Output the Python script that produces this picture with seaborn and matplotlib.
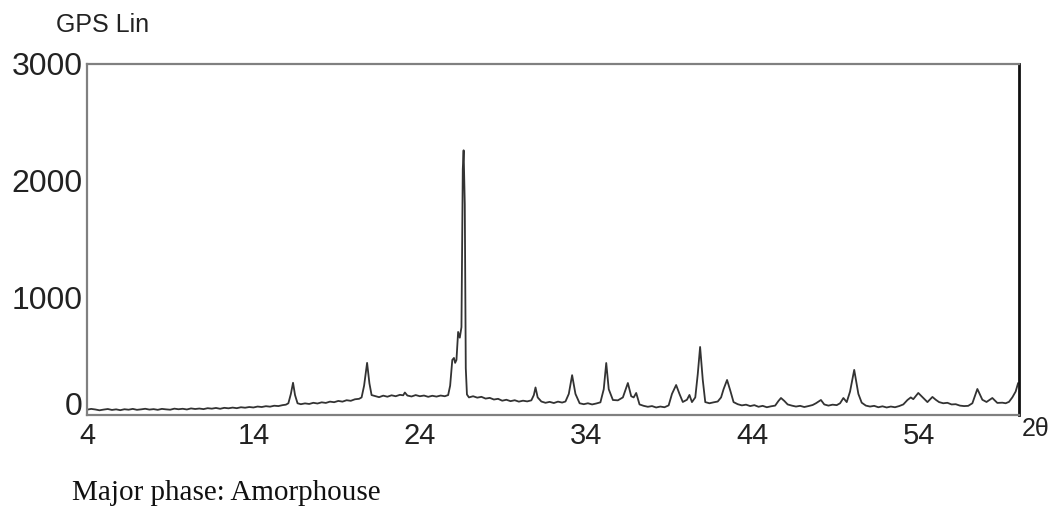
import numpy as np
import pandas as pd
import seaborn as sns
import matplotlib.pyplot as plt

# XRD trace: 2-theta (deg) and counts, ten points per line
two_theta = [4.0, 4.25, 4.5, 4.75, 5.0, 5.25, 5.5, 5.75, 6.0, 6.25,
             6.5, 6.75, 7.0, 7.25, 7.5, 7.75, 8.0, 8.25, 8.5, 8.75,
             9.0, 9.25, 9.5, 9.75, 10.0, 10.25, 10.5, 10.75, 11.0, 11.25,
             11.5, 11.75, 12.0, 12.25, 12.5, 12.75, 13.0, 13.25, 13.5, 13.75,
             14.0, 14.25, 14.5, 14.75, 15.0, 15.25, 15.5, 15.75, 15.95, 16.1,
             16.25, 16.38, 16.5, 16.65, 16.85, 17.1, 17.35, 17.6, 17.85, 18.1,
             18.35, 18.6, 18.85, 19.1, 19.35, 19.6, 19.85, 20.1, 20.35, 20.5,
             20.65, 20.83, 20.97, 21.1, 21.3, 21.55, 21.8, 22.05, 22.3, 22.55,
             22.8, 23.0, 23.1, 23.25, 23.5, 23.75, 24.0, 24.25, 24.5, 24.75,
             25.0, 25.25, 25.5, 25.7, 25.82, 25.95, 26.05, 26.12, 26.2, 26.3,
             26.4, 26.5, 26.58, 26.63, 26.7, 26.76, 26.83, 26.95, 27.2, 27.45,
             27.7, 27.95, 28.2, 28.45, 28.7, 28.95, 29.2, 29.45, 29.7, 29.95,
             30.2, 30.45, 30.7, 30.85, 30.95, 31.08, 31.3, 31.55, 31.8, 32.05,
             32.3, 32.55, 32.75, 32.95, 33.15, 33.35, 33.6, 33.85, 34.1, 34.35,
             34.6, 34.85, 35.05, 35.2, 35.35, 35.6, 35.9, 36.2, 36.5, 36.7,
             36.85, 37.0, 37.2, 37.45, 37.7, 37.95, 38.2, 38.45, 38.7, 38.95,
             39.15, 39.4, 39.6, 39.8, 40.05, 40.2, 40.35, 40.55, 40.7, 40.84,
             41.0, 41.15, 41.4, 41.65, 41.9, 42.1, 42.25, 42.46, 42.65, 42.85,
             43.1, 43.35, 43.6, 43.85, 44.1, 44.35, 44.6, 44.85, 45.1, 45.35,
             45.55, 45.7, 45.9, 46.1, 46.35, 46.6, 46.85, 47.1, 47.35, 47.6,
             47.8, 48.1, 48.3, 48.55, 48.8, 49.05, 49.25, 49.45, 49.65, 49.85,
             50.1, 50.35, 50.55, 50.8, 51.05, 51.3, 51.55, 51.8, 52.05, 52.3,
             52.55, 52.8, 53.05, 53.3, 53.5, 53.65, 53.95, 54.15, 54.3, 54.5,
             54.8, 55.0, 55.2, 55.45, 55.7, 55.95, 56.2, 56.45, 56.7, 56.95,
             57.2, 57.5, 57.8, 58.05, 58.4, 58.7, 59.0, 59.2, 59.4, 59.6,
             59.8, 59.95]
counts = [45, 52, 47, 40, 46, 51, 43, 48, 41, 49,
          45, 52, 44, 48, 53, 46, 50, 44, 52, 48,
          45, 54, 49, 53, 47, 56, 51, 55, 50, 58,
          54, 60, 53, 61, 57, 63, 58, 66, 62, 68,
          64, 72, 68, 75, 71, 79, 76, 84, 88, 100,
          180, 275, 170, 100, 92, 99, 94, 104, 98, 108,
          103, 114, 109, 120, 114, 126, 121, 134, 138, 150,
          250, 445, 270, 170, 162, 152, 165, 156, 168, 160,
          172, 168, 192, 166, 158, 170, 160, 166, 155, 164,
          157, 166, 160, 170, 250, 470, 487, 445, 470, 709,
          660, 750, 2100, 2260, 1800, 400, 175, 150, 160, 148,
          155, 140, 146, 132, 138, 122, 130, 118, 126, 114,
          122, 116, 125, 170, 235, 150, 115, 104, 112, 102,
          114, 106, 115, 180, 340, 180, 100, 92, 100, 90,
          98, 108, 220, 444, 220, 128, 125, 150, 273, 160,
          150, 188, 90, 78, 70, 76, 64, 72, 66, 82,
          180, 256, 180, 111, 130, 171, 110, 150, 350, 581,
          300, 110, 100, 108, 115, 150, 220, 299, 210, 110,
          92, 82, 88, 76, 84, 70, 78, 66, 74, 80,
          120, 145, 120, 90, 80, 72, 78, 68, 76, 85,
          100, 128, 90, 80, 88, 84, 100, 145, 110, 200,
          385, 180, 105, 80, 72, 78, 66, 74, 64, 72,
          66, 76, 90, 128, 150, 135, 188, 160, 140, 110,
          154, 130, 110, 100, 104, 90, 92, 80, 76, 78,
          100, 222, 130, 111, 145, 103, 105, 100, 112, 150,
          200, 273]

x_ticks = [4, 9, 14, 19, 24, 29, 34, 39, 44, 49, 54, 59]
x_labels = ['4', '', '14', '', '24', '', '34', '', '44', '', '54', '']
y_ticks = [0, 500, 1000, 1500, 2000, 2500, 3000]
y_labels = ['0', '', '1000', '', '2000', '', '3000']

df = pd.DataFrame({'two_theta': two_theta, 'counts': counts})

sns.set_style('white')
plt.rcParams['font.family'] = ['Liberation Sans', 'DejaVu Sans']

fig = plt.figure(figsize=(10.52, 5.07), dpi=100)
ax = fig.add_axes([0.0827, 0.1815, 0.8859, 0.6930])

sns.lineplot(data=df, x='two_theta', y='counts', ax=ax, color='#333333',
             linewidth=1.3, estimator=None)

ax.set_xlim(4, 60)
ax.set_ylim(0, 3000)
ax.set_xticks(x_ticks)
ax.set_xticklabels(x_labels, fontsize=21, color='#222222')
ax.set_yticks(y_ticks)
ax.set_yticklabels(y_labels, fontsize=23, color='#222222')
ax.tick_params(axis='both', direction='in', length=3, width=1, color='#888888')
ax.tick_params(axis='x', pad=5)
ax.tick_params(axis='y', pad=3)
# the zero label sits a bit higher than its tick
ax.yaxis.get_ticklabels()[0].set_va('baseline')
ax.set_xlabel('')
ax.set_ylabel('')

for side in ['top', 'left', 'bottom']:
    ax.spines[side].set_color('#808080')
    ax.spines[side].set_linewidth(1.6)
ax.spines['right'].set_color('#111111')
ax.spines['right'].set_linewidth(2)

fig.text(56 / 1052, 1 - 32 / 507, 'GPS Lin', fontsize=18, color='#222222', va='baseline')
fig.text(1022 / 1052, 1 - 436 / 507, '2θ', fontsize=18, color='#222222', va='baseline')
fig.text(72 / 1052, 1 - 500 / 507, 'Major phase: Amorphouse', fontsize=21,
         family=['Liberation Serif', 'DejaVu Serif'], color='#111111', va='baseline')

fig.savefig('out.png', dpi=100)
